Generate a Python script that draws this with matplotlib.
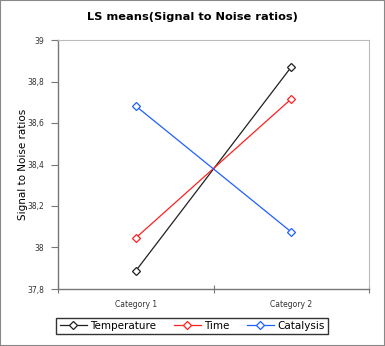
import matplotlib
matplotlib.use("Agg")
import matplotlib.pyplot as plt
from matplotlib.ticker import FuncFormatter
from matplotlib.patches import Rectangle

categories = ["Category 1", "Category 2"]
temperature = [37.887, 38.870]
time_vals = [38.046, 38.716]
catalysis = [38.682, 38.075]
series_names = ["Temperature", "Time", "Catalysis"]
colors = ["#202020", "#ff2020", "#2060ff"]

fig = plt.figure(figsize=(3.85, 3.46), dpi=100)
fig.patches.append(Rectangle((0, 0), 1, 1, transform=fig.transFigure, fill=False,
                             edgecolor="#888888", linewidth=1.5))
ax = fig.add_axes([58/385, 1-289/346, (369-58)/385, (289-40)/346])

x = list(range(len(categories)))
for vals, name, c in zip([temperature, time_vals, catalysis], series_names, colors):
    ax.plot(x, vals, color=c, lw=0.9, marker="D", markersize=4.5,
            markerfacecolor="white", markeredgecolor=c, markeredgewidth=0.9, label=name)

ax.set_xlim(-0.5, 1.5)
ax.set_ylim(37.8, 39.0)
ax.set_yticks([37.8, 38.0, 38.2, 38.4, 38.6, 38.8, 39.0])
ax.yaxis.set_major_formatter(FuncFormatter(lambda v, p: (f"{v:.1f}".rstrip("0").rstrip(".")).replace(".", ",")))
ax.set_xticks([-0.5, 0.5, 1.5])
ax.set_xticklabels([])
ax.set_xticks(x, minor=True)
ax.set_xticklabels(categories, minor=True, fontsize=5.5, color="#333333")
ax.tick_params(axis="x", which="minor", length=0, pad=8)
ax.tick_params(axis="x", which="major", direction="inout", length=6, color="#777777")
ax.tick_params(axis="y", direction="out", length=5, color="#777777", labelsize=5.5, colors="#333333", pad=5)
ax.tick_params(axis="y", labelcolor="#333333")
for s in ["left", "bottom"]:
    ax.spines[s].set_color("#777777")
    ax.spines[s].set_linewidth(1.0)
for s in ["top", "right"]:
    ax.spines[s].set_color("#bbbbbb")
    ax.spines[s].set_linewidth(0.8)

ax.set_ylabel("Signal to Noise ratios", fontsize=7.5)
ax.yaxis.set_label_coords((28-58)/(369-58), 0.5)
fig.text(0.5, 1-17/346, "LS means(Signal to Noise ratios)", ha="center", va="center",
         fontsize=8.2, fontweight="bold")

leg = fig.legend(loc="center", bbox_to_anchor=(192/385, 1-326/346), ncol=3, fontsize=7.5,
                 frameon=True, fancybox=False, edgecolor="black", handlelength=2.6,
                 columnspacing=1.7, handletextpad=0.3, borderpad=0.3, markerscale=0.85)
leg.get_frame().set_linewidth(1.0)

fig.savefig("out.png", dpi=100)
